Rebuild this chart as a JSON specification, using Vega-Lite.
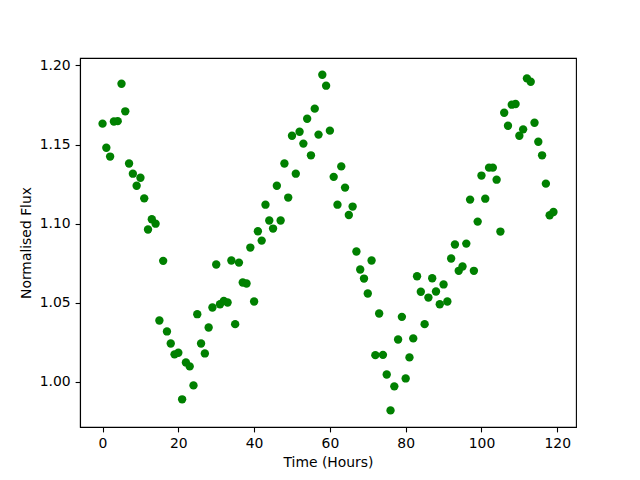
{
  "$schema": "https://vega.github.io/schema/vega-lite/v6.json",
  "autosize": {"type": "none"},
  "width": 496,
  "height": 369,
  "padding": {"left": 80, "top": 58, "right": 64, "bottom": 53},
  "background": "white",
  "config": {
    "view": {"stroke": "black", "strokeWidth": 1.1},
    "axis": {
      "labelFont": "DejaVu Sans",
      "titleFont": "DejaVu Sans",
      "labelFontSize": 13.9,
      "titleFontSize": 13.9,
      "titleFontWeight": "normal",
      "labelColor": "black",
      "titleColor": "black",
      "domainColor": "black",
      "domainWidth": 1.1,
      "tickColor": "black",
      "tickWidth": 1.1,
      "tickSize": 4.9,
      "labelPadding": 4.9,
      "grid": false
    }
  },
  "data": {
    "values": [
      {"t": 0, "f": 1.1632}, {"t": 1, "f": 1.148}, {"t": 2, "f": 1.1424}, {"t": 3, "f": 1.1646},
      {"t": 4, "f": 1.1648}, {"t": 5, "f": 1.1884}, {"t": 6, "f": 1.171}, {"t": 7, "f": 1.138},
      {"t": 8, "f": 1.1316}, {"t": 9, "f": 1.124}, {"t": 10, "f": 1.129}, {"t": 11, "f": 1.116},
      {"t": 12, "f": 1.0963}, {"t": 13, "f": 1.1028}, {"t": 14, "f": 1.1}, {"t": 15, "f": 1.0388},
      {"t": 16, "f": 1.0765}, {"t": 17, "f": 1.0319}, {"t": 18, "f": 1.0243}, {"t": 19, "f": 1.0174},
      {"t": 20, "f": 1.0184}, {"t": 21, "f": 0.989}, {"t": 22, "f": 1.0123}, {"t": 23, "f": 1.0098},
      {"t": 24, "f": 0.9978}, {"t": 25, "f": 1.0428}, {"t": 26, "f": 1.0243}, {"t": 27, "f": 1.018},
      {"t": 28, "f": 1.0344}, {"t": 29, "f": 1.047}, {"t": 30, "f": 1.0742}, {"t": 31, "f": 1.0491},
      {"t": 32, "f": 1.0512}, {"t": 33, "f": 1.0502}, {"t": 34, "f": 1.0767}, {"t": 35, "f": 1.0365},
      {"t": 36, "f": 1.0754}, {"t": 37, "f": 1.0628}, {"t": 38, "f": 1.0622}, {"t": 39, "f": 1.0849},
      {"t": 40, "f": 1.0508}, {"t": 41, "f": 1.0952}, {"t": 42, "f": 1.0893}, {"t": 43, "f": 1.112},
      {"t": 44, "f": 1.102}, {"t": 45, "f": 1.0969}, {"t": 46, "f": 1.124}, {"t": 47, "f": 1.102},
      {"t": 48, "f": 1.138}, {"t": 49, "f": 1.1165}, {"t": 50, "f": 1.1556}, {"t": 51, "f": 1.1316},
      {"t": 52, "f": 1.1581}, {"t": 53, "f": 1.1506}, {"t": 54, "f": 1.1663}, {"t": 55, "f": 1.1432},
      {"t": 56, "f": 1.1727}, {"t": 57, "f": 1.1563}, {"t": 58, "f": 1.1941}, {"t": 59, "f": 1.1872},
      {"t": 60, "f": 1.1588}, {"t": 61, "f": 1.1296}, {"t": 62, "f": 1.112}, {"t": 63, "f": 1.1362},
      {"t": 64, "f": 1.1228}, {"t": 65, "f": 1.1055}, {"t": 66, "f": 1.1108}, {"t": 67, "f": 1.0824},
      {"t": 68, "f": 1.071}, {"t": 69, "f": 1.0653}, {"t": 70, "f": 1.0559}, {"t": 71, "f": 1.0767},
      {"t": 72, "f": 1.0169}, {"t": 73, "f": 1.0432}, {"t": 74, "f": 1.0171}, {"t": 75, "f": 1.0047},
      {"t": 76, "f": 0.982}, {"t": 77, "f": 0.9972}, {"t": 78, "f": 1.0268}, {"t": 79, "f": 1.0411},
      {"t": 80, "f": 1.0022}, {"t": 81, "f": 1.0155}, {"t": 82, "f": 1.0275}, {"t": 83, "f": 1.0668},
      {"t": 84, "f": 1.057}, {"t": 85, "f": 1.0365}, {"t": 86, "f": 1.0533}, {"t": 87, "f": 1.0655},
      {"t": 88, "f": 1.0571}, {"t": 89, "f": 1.0491}, {"t": 90, "f": 1.0616}, {"t": 91, "f": 1.0508},
      {"t": 92, "f": 1.078}, {"t": 93, "f": 1.0868}, {"t": 94, "f": 1.0702}, {"t": 95, "f": 1.0729},
      {"t": 96, "f": 1.0874}, {"t": 97, "f": 1.1152}, {"t": 98, "f": 1.0702}, {"t": 99, "f": 1.1013},
      {"t": 100, "f": 1.1304}, {"t": 101, "f": 1.1158}, {"t": 102, "f": 1.1354}, {"t": 103, "f": 1.1354},
      {"t": 104, "f": 1.1278}, {"t": 105, "f": 1.095}, {"t": 106, "f": 1.1701}, {"t": 107, "f": 1.1619},
      {"t": 108, "f": 1.1752}, {"t": 109, "f": 1.1756}, {"t": 110, "f": 1.1556}, {"t": 111, "f": 1.1596},
      {"t": 112, "f": 1.1918}, {"t": 113, "f": 1.1897}, {"t": 114, "f": 1.1638}, {"t": 115, "f": 1.1518},
      {"t": 116, "f": 1.1432}, {"t": 117, "f": 1.1253}, {"t": 118, "f": 1.1053}, {"t": 119, "f": 1.1074}
    ]
  },
  "mark": {"type": "circle", "color": "#008000", "opacity": 1, "size": 70},
  "encoding": {
    "x": {
      "field": "t",
      "type": "quantitative",
      "scale": {"domain": [-5.95, 124.95], "nice": false, "zero": false},
      "axis": {"values": [0, 20, 40, 60, 80, 100, 120], "title": "Time (Hours)", "titlePadding": 5}
    },
    "y": {
      "field": "f",
      "type": "quantitative",
      "scale": {"domain": [0.9715, 1.2047], "nice": false, "zero": false},
      "axis": {"values": [1.0, 1.05, 1.1, 1.15, 1.2], "format": ".2f", "title": "Normalised Flux", "titlePadding": 6}
    }
  }
}
